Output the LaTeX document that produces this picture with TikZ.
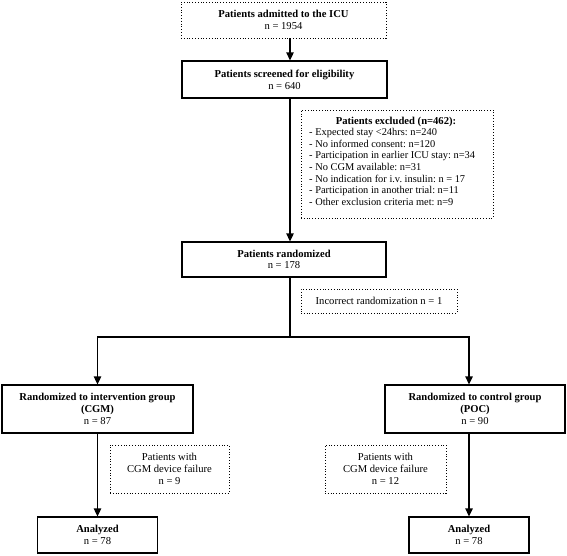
\documentclass[tikz,border=0pt]{standalone}
\usepackage{fontspec}
\setmainfont{Liberation Serif}
\usetikzlibrary{arrows.meta}
\begin{document}
\frenchspacing
\begin{tikzpicture}[x=1pt,y=-1pt,
  every node/.style={font=\fontsize{10.6}{11.7}\selectfont},
  solidbox/.style={draw, line width=1.3pt, align=center, inner sep=0pt},
  dotbox/.style={draw, line width=0.8pt, dotted, align=center, inner sep=0pt},
  txt/.style={inner sep=0pt},
  arr/.style={line width=1.3pt, -{Triangle[length=8pt,width=7.5pt]}},
  ln/.style={line width=1.3pt}]
\useasboundingbox (0,0) rectangle (567,555);
\node[dotbox, minimum width=205pt, minimum height=36pt] (adm) at (283.5,20) {\textbf{Patients admitted to the ICU}\\n = 1954};
\node[solidbox, minimum width=205pt, minimum height=37pt] (scr) at (284.5,79.5) {\textbf{Patients screened for eligibility}\\n = 640};
\node[dotbox, minimum width=192pt, minimum height=108pt] (excl) at (397,164) {};
\node[txt] (excltitle) at (396,122) {\textbf{Patients excluded (n=462):}};
\node[txt, anchor=north west, align=left, font=\fontsize{10.4}{11.7}\selectfont] (excllist) at (309,128) {- Expected stay <24hrs: n=240\\
- No informed consent: n=120\\
- Participation in earlier ICU stay: n=34\\
- No CGM available: n=31\\
- No indication for i.v. insulin: n = 17\\
- Participation in another trial: n=11\\
- Other exclusion criteria met: n=9};
\node[solidbox, minimum width=204pt, minimum height=35pt] (rnd) at (284,259.5) {\textbf{Patients randomized}\\n = 178};
\node[dotbox, minimum width=156pt, minimum height=24pt] (inc) at (379,301) {Incorrect randomization n = 1};
\coordinate (j) at (290,337);
\coordinate (jr) at (469,337);
\node[solidbox, minimum width=191pt, minimum height=48pt] (lg) at (97.5,409) {\textbf{Randomized to intervention group}\\\textbf{(CGM)}\\n = 87};
\node[solidbox, minimum width=180pt, minimum height=48pt] (rg) at (475,409) {\textbf{Randomized to control group}\\\textbf{(POC)}\\n = 90};
\node[dotbox, minimum width=119pt, minimum height=48pt] (lf) at (169.5,469) {Patients with\\CGM device failure\\n = 9};
\node[dotbox, minimum width=121pt, minimum height=48pt] (rf) at (385.5,469) {Patients with\\CGM device failure\\n = 12};
\node[solidbox, minimum width=120pt, minimum height=36pt] (la) at (97.5,535) {\textbf{Analyzed}\\n = 78};
\node[solidbox, minimum width=120pt, minimum height=36pt] (ra) at (469,535) {\textbf{Analyzed}\\n = 78};
\draw[arr] (adm.south -| j) -- (scr.north -| j);
\draw[arr] (scr.south -| j) -- (rnd.north -| j);
\draw[ln] (rnd.south -| j) -- (j);
\draw[arr] (j) -| (lg.north);
\draw[arr] (j) -- (jr) -- (rg.north -| jr);
\draw[arr] (lg.south) -- (la.north);
\draw[arr] (rg.south -| jr) -- (ra.north);
\end{tikzpicture}
\end{document}
